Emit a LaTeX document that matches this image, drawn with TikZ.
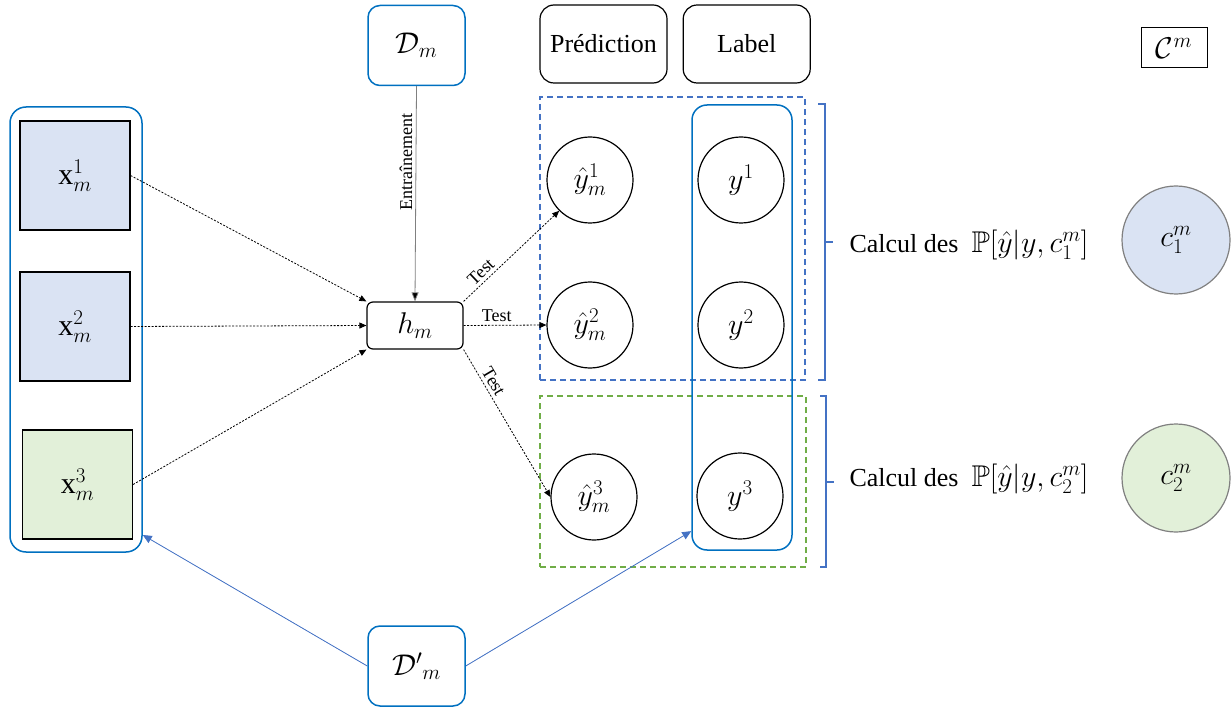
\RequirePackage{fix-cm}
\documentclass[tikz,border=0pt]{standalone}
\usepackage{fontspec}
\setmainfont{Liberation Serif}
\usepackage{amsmath,amssymb}
\usetikzlibrary{arrows.meta,positioning}

\definecolor{boxblue}{RGB}{0,112,192}
\definecolor{lineblue}{RGB}{68,114,196}
\definecolor{fillblue}{RGB}{218,227,243}
\definecolor{fillgreen}{RGB}{226,240,217}
\definecolor{dashgreen}{RGB}{112,173,71}

\newcommand{\mth}[1]{{\fontsize{30}{34}\selectfont$#1$}}

\begin{document}
\begin{tikzpicture}[x=1pt, y=-1pt,
  data/.style={draw=boxblue, line width=1.5pt, rounded corners=12pt, minimum width=97pt, minimum height=80pt, font=\fontsize{26}{30}\selectfont},
  model/.style={draw, line width=1.2pt, rounded corners=6pt, minimum width=96pt, minimum height=47pt, font=\fontsize{26}{30}\selectfont},
  head/.style={draw, line width=1.2pt, rounded corners=14pt, minimum width=127pt, minimum height=78pt, font=\fontsize{26}{30}\selectfont},
  legend/.style={draw, line width=1pt, minimum width=66pt, minimum height=40pt, font=\fontsize{26}{30}\selectfont},
  group/.style={draw=boxblue, line width=1.5pt, rounded corners=16pt},
  sample/.style={draw, line width=1.2pt, minimum width=110pt, minimum height=109pt, font=\fontsize{26}{30}\selectfont},
  frame/.style={dashed, line width=1.3pt, dash pattern=on 6pt off 4pt},
  outcome/.style={circle, draw, line width=1.2pt, minimum size=86pt, font=\fontsize{26}{30}\selectfont},
  class/.style={circle, draw=gray, line width=1.2pt, minimum size=108pt, font=\fontsize{26}{30}\selectfont},
  calc/.style={anchor=west, font=\fontsize{26}{30}\selectfont},
  testarrow/.style={-{Triangle[length=7pt,width=6pt]}, line width=0.8pt, dash pattern=on 2pt off 1.5pt},
  splitarrow/.style={-{Triangle[length=9pt,width=8pt]}, draw=lineblue, fill=lineblue, line width=0.8pt},
  brace/.style={draw=lineblue, line width=1.2pt},
  small/.style={font=\fontsize{18}{20}\selectfont}
]
\useasboundingbox (0,0) rectangle (1231,711);

% data sets and model
\node[data] (dm) at (416.5,45.5) {\mth{\mathcal{D}_m}};
\node[data] (dpm) at (416.5,666) {\mth{{\mathcal{D}'}_m}};
\node[model] (hm) at (415,325.5) {\mth{h_m}};

% column headers
\node[head] (pred) at (603.5,44) {Prédiction};
\node[head, right=15pt of pred] (lab) {Label};
\node[legend] (cm) at (1174,48) {\mth{\mathcal{C}^m}};

% test samples
\node[group, minimum width=132pt, minimum height=445pt] (xgroup) at (76,329.5) {};
\node[sample, fill=fillblue] (x1) at (75,175.5) {\mth{\mathrm{x}_m^1}};
\node[sample, fill=fillblue] (x2) at (75,326.5) {\mth{\mathrm{x}_m^2}};
\node[sample, fill=fillgreen] (x3) at (77.5,484.5) {\mth{\mathrm{x}_m^3}};

% frames per class
\node[frame, draw=lineblue, minimum width=265pt, minimum height=283pt] (blueset) at (672.5,238.5) {};
\node[frame, draw=dashgreen, minimum width=266pt, minimum height=171pt] (greenset) at (673,481.5) {};
\node[group, rounded corners=15pt, minimum width=100pt, minimum height=445pt] (labcol) at (742,327.5) {};

% predictions and labels
\node[outcome] (yh1) at (590,180) {\mth{\hat{y}_m^1}};
\node[outcome] (y1) at (741,180) {\mth{y^1}};
\node[outcome] (yh2) at (590,325) {\mth{\hat{y}_m^2}};
\node[outcome] (y2) at (741,325) {\mth{y^2}};
\node[outcome] (yh3) at (594,497) {\mth{\hat{y}_m^3}};
\node[outcome] (y3) at (740,496) {\mth{y^3}};

% confusion per class
\node[calc] (calc1) at (846,245) {Calcul des~ \mth{\mathbb{P}[\hat{y}|y,c_1^m]}};
\node[calc] (calc2) at (846,479) {Calcul des~ \mth{\mathbb{P}[\hat{y}|y,c_2^m]}};
\node[class, fill=fillblue] (c1) at (1176,240) {\mth{c_1^m}};
\node[class, fill=fillgreen] (c2) at (1176,478) {\mth{c_2^m}};

% braces
\draw[brace] (818,104) -- (825,104) -- (825,380) -- (818,380);
\draw[brace] (825,242) -- (833,242);
\draw[brace] (820,396) -- (826,396) -- (826,567) -- (820,567);
\draw[brace] (826,482) -- (834,482);

% connectors
\draw[gray, line width=0.8pt, -{Triangle[length=9pt,width=7pt,fill=black]}] (dm.south) -- (hm.north)
  node[pos=0.35, rotate=90, anchor=south, small, black] {Entraînement};
\draw[testarrow] (x1.east) -- (hm.north west);
\draw[testarrow] (x2.east) -- (hm.west);
\draw[testarrow] (x3.east) -- (hm.south west);
\draw[testarrow] (hm.north east) -- (yh1.south west) node[pos=0.25, above, sloped, small] {Test};
\draw[testarrow] (hm.east) -- (yh2.west) node[pos=0.4, above, small] {Test};
\draw[testarrow] (hm.south east) -- (yh3.west) node[pos=0.25, above, sloped, small] {Test};
\draw[splitarrow] (dpm.west) -- (xgroup.-72);
\draw[splitarrow] (dpm.east) -- (labcol.-104);
\end{tikzpicture}
\end{document}
